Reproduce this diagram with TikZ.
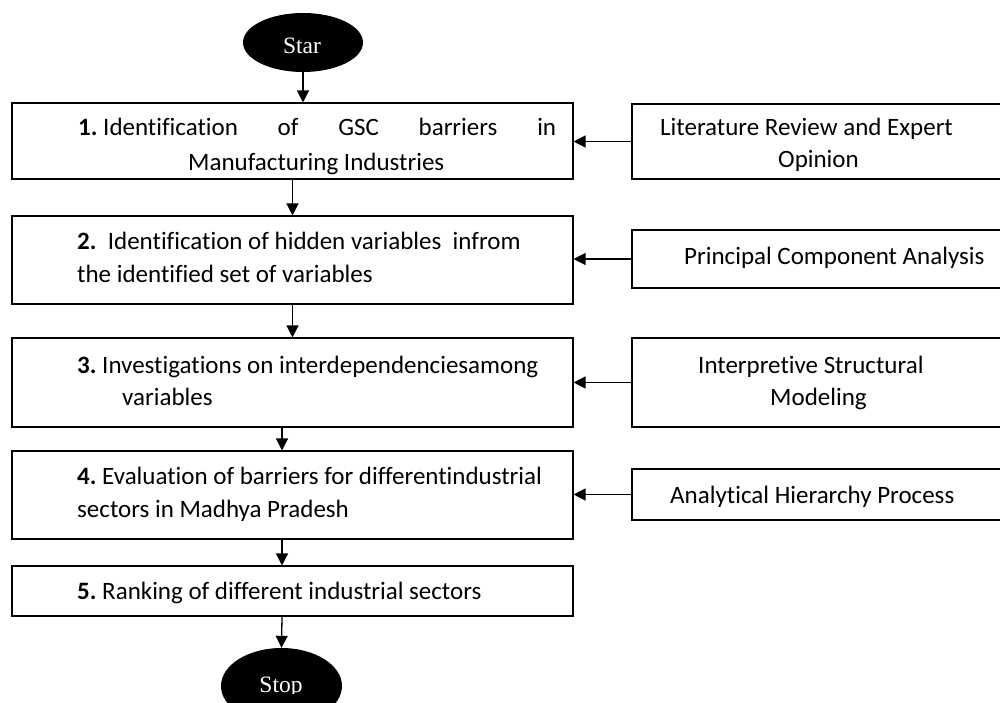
\documentclass[tikz,border=0pt]{standalone}
\usepackage{fontspec}
\setmainfont{Carlito}[Ligatures=NoCommon]
\newfontfamily\serifface{Liberation Serif}
\usetikzlibrary{arrows.meta,shapes.geometric}
\frenchspacing
\begin{document}
\begin{tikzpicture}[x=1pt,y=-1pt,
  stepbox/.style={draw=black,line width=1.1pt,rectangle,inner sep=0pt},
  txt/.style={anchor=base west,inner sep=0pt,font=\fontsize{25}{30}\selectfont},
  term/.style={ellipse,fill=black,draw=none,inner sep=0pt},
  termtxt/.style={anchor=base,inner sep=0pt,text=white,font=\serifface\fontsize{23.5}{28}\selectfont},
  arr/.style={line width=1.3pt,-{Triangle[length=12pt,width=12pt]}}]
\useasboundingbox (0,0) rectangle (1000,703);
\clip (0,0) rectangle (1000,703);

% terminals
\node[term,minimum width=120pt,minimum height=59pt] (start) at (303,42.5) {};
\node[termtxt] (starttxt) at (302,54) {Star};
\node[term,minimum width=121pt,minimum height=76pt] (stop) at (281.5,686) {};
\begin{scope}
  \clip (200,640) rectangle (360,693);
  \node[termtxt] (stoptxt) at (281,692) {Stop};
\end{scope}

% main steps
\node[stepbox,minimum width=561pt,minimum height=76pt] (b1) at (292.5,141) {};
\node[stepbox,minimum width=561pt,minimum height=88pt] (b2) at (292.5,260) {};
\node[stepbox,minimum width=561pt,minimum height=89pt] (b3) at (292.5,382.5) {};
\node[stepbox,minimum width=561pt,minimum height=88pt] (b4) at (292.5,495) {};
\node[stepbox,minimum width=561pt,minimum height=50pt] (b5) at (292.5,591) {};

% methods
\node[stepbox,minimum width=378pt,minimum height=75pt] (lr) at (821,141.5) {};
\node[stepbox,minimum width=378pt,minimum height=58pt] (pca) at (821,259) {};
\node[stepbox,minimum width=378pt,minimum height=89pt] (ism) at (821,382.5) {};
\node[stepbox,minimum width=378pt,minimum height=51pt] (ahp) at (821,494.5) {};

% step texts
\node[txt] (t1a) at (78,136) {\makebox[478pt][l]{\textbf{1.} Identification\hfill of\hfill GSC\hfill barriers\hfill in}};
\node[txt] (t1b) at (188,171) {Manufacturing Industries};
\node[txt] (t2a) at (77,250) {\textbf{2.}\ \ Identification of hidden variables\ \ infrom};
\node[txt] (t2b) at (77,282) {the identified set of variables};
\node[txt] (t3a) at (77,373) {\textbf{3.} Investigations on interdependenciesamong};
\node[txt] (t3b) at (122,405) {variables};
\node[txt] (t4a) at (77,484) {\textbf{4.} Evaluation of barriers for differentindustrial};
\node[txt] (t4b) at (77,517) {sectors in Madhya Pradesh};
\node[txt] (t5a) at (77,599) {\textbf{5.} Ranking of different industrial sectors};

% method texts
\node[txt] (m1a) at (660,136) {Literature Review and Expert};
\node[txt] (m1b) at (778,168) {Opinion};
\node[txt] (m2a) at (684,264) {Principal Component Analysis};
\node[txt] (m3a) at (698,373) {Interpretive Structural};
\node[txt] (m3b) at (770,405) {Modeling};
\node[txt] (m4a) at (670,503) {Analytical Hierarchy Process};

% flow
\draw[arr] (start.south) -- (start.south |- b1.north);
\draw[arr] (b1.south) -- (b2.north);
\draw[arr] (b2.south) -- (b3.north);
\draw[arr] ([xshift=-10.5pt]b3.south) -- ([xshift=-10.5pt]b4.north);
\draw[arr] ([xshift=-10.5pt]b4.south) -- ([xshift=-10.5pt]b5.north);
\draw[arr] ([xshift=-10.5pt]b5.south) -- (stop.north);

% method inputs
\draw[arr] (lr.west) -- (lr.west -| b1.east);
\draw[arr] (pca.west) -- (pca.west -| b2.east);
\draw[arr] (ism.west) -- (ism.west -| b3.east);
\draw[arr] (ahp.west) -- (ahp.west -| b4.east);
\end{tikzpicture}
\end{document}
